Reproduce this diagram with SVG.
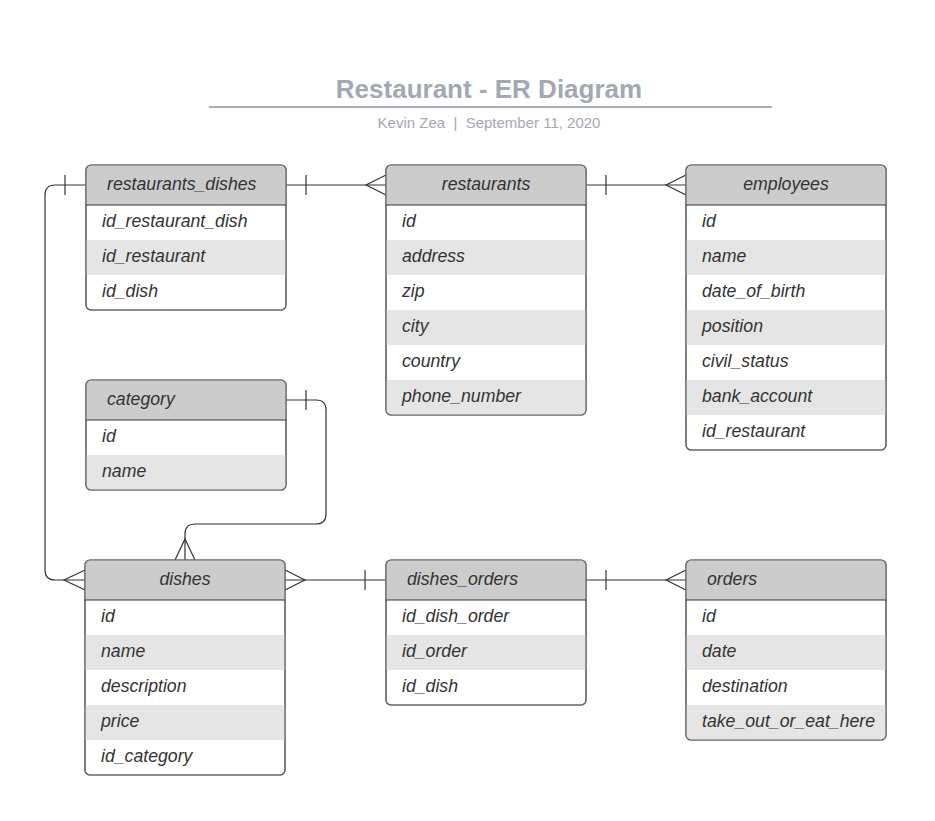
<svg xmlns="http://www.w3.org/2000/svg" width="935" height="821" viewBox="0 0 935 821">
<style>
.box{fill:#ffffff;stroke:#666666;stroke-width:1.2}
.hdr{fill:#cccccc}
.alt{fill:#e5e5e5}
.div{stroke:#333333;stroke-width:1.2}
.t{font-family:"Liberation Sans",Arial,sans-serif;font-style:italic;font-size:17.7px;fill:#333333}
.c{text-anchor:middle}
.ln{fill:none;stroke:#333333;stroke-width:1.2}
.title{font-family:"Liberation Sans",Arial,sans-serif;font-weight:bold;font-size:26px;fill:#a3a8b3;text-anchor:middle}
.sub{font-family:"Liberation Sans",Arial,sans-serif;font-size:15px;fill:#a3a8b3;text-anchor:middle}
</style>
<rect width="935" height="821" fill="#ffffff"/>
<g id="title">
<text class="title" x="489" y="98">Restaurant - ER Diagram</text>
<line x1="209" y1="107" x2="772" y2="107" stroke="#a9adb6" stroke-width="2"/>
<text class="sub" x="489" y="128" xml:space="preserve">Kevin Zea  |  September 11, 2020</text>
</g>
<g id="connectors">
<path class="ln" d="M286,185 H386"/>
<path class="ln" d="M306,175 V195"/>
<path class="ln" d="M386,175 L366,185 L386,195"/>
<path class="ln" d="M586,185 H686"/>
<path class="ln" d="M606,175 V195"/>
<path class="ln" d="M686,175 L666,185 L686,195"/>
<path class="ln" d="M86,185 H55 Q45,185 45,195 V570 Q45,580 55,580 H85"/>
<path class="ln" d="M65,175 V195"/>
<path class="ln" d="M85,570 L64,580 L85,590"/>
<path class="ln" d="M286,400 H316 Q326,400 326,410 V514 Q326,524 316,524 H195 Q185,524 185,534 V560"/>
<path class="ln" d="M306,390 V410"/>
<path class="ln" d="M175,560 L185,539 L195,560"/>
<path class="ln" d="M285,580 H386"/>
<path class="ln" d="M285,570 L305,580 L285,590"/>
<path class="ln" d="M365,570 V590"/>
<path class="ln" d="M586,580 H686"/>
<path class="ln" d="M606,570 V590"/>
<path class="ln" d="M686,570 L666,580 L686,590"/>
</g>
<defs>
<clipPath id="cRD"><rect x="86" y="165" width="200" height="145" rx="5"/></clipPath>
<clipPath id="cR"><rect x="386" y="165" width="200" height="250" rx="5"/></clipPath>
<clipPath id="cE"><rect x="686" y="165" width="200" height="285" rx="5"/></clipPath>
<clipPath id="cC"><rect x="86" y="380" width="200" height="110" rx="5"/></clipPath>
<clipPath id="cD"><rect x="85" y="560" width="200" height="215" rx="5"/></clipPath>
<clipPath id="cDO"><rect x="386" y="560" width="200" height="145" rx="5"/></clipPath>
<clipPath id="cO"><rect x="686" y="560" width="200" height="180" rx="5"/></clipPath>
</defs>
<g id="restaurants_dishes">
<rect class="box" x="86" y="165" width="200" height="145" rx="5"/>
<g clip-path="url(#cRD)">
<rect class="hdr" x="86" y="165" width="200" height="40"/>
<rect class="alt" x="86" y="240" width="200" height="35"/>
</g>
<rect x="86" y="165" width="200" height="145" rx="5" fill="none" stroke="#666666" stroke-width="1.2"/>
<line class="div" x1="86" y1="205" x2="286" y2="205"/>
<text class="t" x="107" y="190">restaurants_dishes</text>
<text class="t" x="102" y="227">id_restaurant_dish</text>
<text class="t" x="102" y="262">id_restaurant</text>
<text class="t" x="102" y="297">id_dish</text>
</g>
<g id="restaurants">
<rect class="box" x="386" y="165" width="200" height="250" rx="5"/>
<g clip-path="url(#cR)">
<rect class="hdr" x="386" y="165" width="200" height="40"/>
<rect class="alt" x="386" y="240" width="200" height="35"/>
<rect class="alt" x="386" y="310" width="200" height="35"/>
<rect class="alt" x="386" y="380" width="200" height="35"/>
</g>
<rect x="386" y="165" width="200" height="250" rx="5" fill="none" stroke="#666666" stroke-width="1.2"/>
<line class="div" x1="386" y1="205" x2="586" y2="205"/>
<text class="t c" x="486" y="190">restaurants</text>
<text class="t" x="402" y="227">id</text>
<text class="t" x="402" y="262">address</text>
<text class="t" x="402" y="297">zip</text>
<text class="t" x="402" y="332">city</text>
<text class="t" x="402" y="367">country</text>
<text class="t" x="402" y="402">phone_number</text>
</g>
<g id="employees">
<rect class="box" x="686" y="165" width="200" height="285" rx="5"/>
<g clip-path="url(#cE)">
<rect class="hdr" x="686" y="165" width="200" height="40"/>
<rect class="alt" x="686" y="240" width="200" height="35"/>
<rect class="alt" x="686" y="310" width="200" height="35"/>
<rect class="alt" x="686" y="380" width="200" height="35"/>
</g>
<rect x="686" y="165" width="200" height="285" rx="5" fill="none" stroke="#666666" stroke-width="1.2"/>
<line class="div" x1="686" y1="205" x2="886" y2="205"/>
<text class="t c" x="786" y="190">employees</text>
<text class="t" x="702" y="227">id</text>
<text class="t" x="702" y="262">name</text>
<text class="t" x="702" y="297">date_of_birth</text>
<text class="t" x="702" y="332">position</text>
<text class="t" x="702" y="367">civil_status</text>
<text class="t" x="702" y="402">bank_account</text>
<text class="t" x="702" y="437">id_restaurant</text>
</g>
<g id="category">
<rect class="box" x="86" y="380" width="200" height="110" rx="5"/>
<g clip-path="url(#cC)">
<rect class="hdr" x="86" y="380" width="200" height="40"/>
<rect class="alt" x="86" y="455" width="200" height="35"/>
</g>
<rect x="86" y="380" width="200" height="110" rx="5" fill="none" stroke="#666666" stroke-width="1.2"/>
<line class="div" x1="86" y1="420" x2="286" y2="420"/>
<text class="t" x="107" y="405">category</text>
<text class="t" x="102" y="442">id</text>
<text class="t" x="102" y="477">name</text>
</g>
<g id="dishes">
<rect class="box" x="85" y="560" width="200" height="215" rx="5"/>
<g clip-path="url(#cD)">
<rect class="hdr" x="85" y="560" width="200" height="40"/>
<rect class="alt" x="85" y="635" width="200" height="35"/>
<rect class="alt" x="85" y="705" width="200" height="35"/>
</g>
<rect x="85" y="560" width="200" height="215" rx="5" fill="none" stroke="#666666" stroke-width="1.2"/>
<line class="div" x1="85" y1="600" x2="285" y2="600"/>
<text class="t c" x="185" y="585">dishes</text>
<text class="t" x="101" y="622">id</text>
<text class="t" x="101" y="657">name</text>
<text class="t" x="101" y="692">description</text>
<text class="t" x="101" y="727">price</text>
<text class="t" x="101" y="762">id_category</text>
</g>
<g id="dishes_orders">
<rect class="box" x="386" y="560" width="200" height="145" rx="5"/>
<g clip-path="url(#cDO)">
<rect class="hdr" x="386" y="560" width="200" height="40"/>
<rect class="alt" x="386" y="635" width="200" height="35"/>
</g>
<rect x="386" y="560" width="200" height="145" rx="5" fill="none" stroke="#666666" stroke-width="1.2"/>
<line class="div" x1="386" y1="600" x2="586" y2="600"/>
<text class="t" x="407" y="585">dishes_orders</text>
<text class="t" x="402" y="622">id_dish_order</text>
<text class="t" x="402" y="657">id_order</text>
<text class="t" x="402" y="692">id_dish</text>
</g>
<g id="orders">
<rect class="box" x="686" y="560" width="200" height="180" rx="5"/>
<g clip-path="url(#cO)">
<rect class="hdr" x="686" y="560" width="200" height="40"/>
<rect class="alt" x="686" y="635" width="200" height="35"/>
<rect class="alt" x="686" y="705" width="200" height="35"/>
</g>
<rect x="686" y="560" width="200" height="180" rx="5" fill="none" stroke="#666666" stroke-width="1.2"/>
<line class="div" x1="686" y1="600" x2="886" y2="600"/>
<text class="t" x="707" y="585">orders</text>
<text class="t" x="702" y="622">id</text>
<text class="t" x="702" y="657">date</text>
<text class="t" x="702" y="692">destination</text>
<text class="t" x="702" y="727">take_out_or_eat_here</text>
</g>
</svg>
